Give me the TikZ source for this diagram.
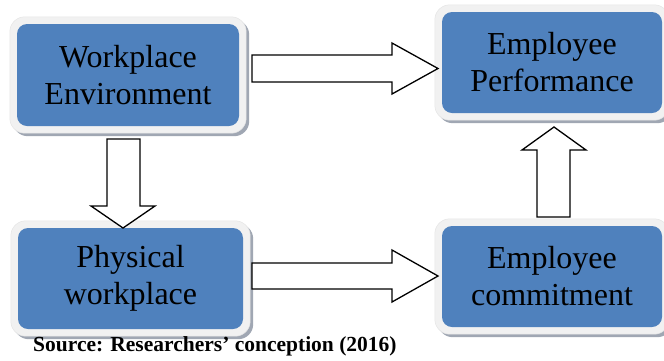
\documentclass[tikz,border=0pt]{standalone}
\usepackage{fontspec}
\setmainfont{Liberation Serif}
\usetikzlibrary{calc,backgrounds}
\definecolor{boxblue}{HTML}{4F81BD}
\definecolor{framegray}{HTML}{F1F1F1}
\definecolor{shadowgray}{HTML}{A0A7B3}
\begin{document}
\begin{tikzpicture}[x=1pt,y=-1pt,
  box/.style={fill=boxblue, rounded corners=10pt, inner sep=0pt, align=center,
    font=\fontsize{32}{37}\selectfont, text=black},
  boxframe/.style={fill=framegray, draw=black!10, line width=0.5pt, rounded corners=15pt},
  boxshade/.style={fill=shadowgray, rounded corners=15pt},
  blockarrow/.style={draw=black, fill=white, line width=1.3pt, line join=miter}]
\useasboundingbox (0,0) rectangle (664,360);
\node[box, minimum width=222pt, minimum height=102pt] (env) at (128,75) {Workplace\\Environment};
\node[box, minimum width=220pt, minimum height=101pt] (perf) at (552,62.5) {Employee\\Performance};
\node[box, minimum width=225pt, minimum height=101pt] (phys) at (130.5,278.5) {Physical\\workplace};
\node[box, minimum width=220pt, minimum height=101pt] (comm) at (552,276.5) {Employee\\commitment};
\begin{scope}[on background layer]
 \foreach \n in {env,perf,phys,comm} {
  \fill[boxshade] ([shift={(-4,-4)}]\n.north west) rectangle ([shift={(10,10)}]\n.south east);
  \draw[boxframe] ([shift={(-7,-7)}]\n.north west) rectangle ([shift={(7,7)}]\n.south east);
 }
\end{scope}
% Workplace Environment -> Employee Performance
\coordinate (a1s) at (252,68.5);
\coordinate (a1e) at (438,68.5);
\draw[blockarrow] ([shift={(0,-13.5)}]a1s) -- (392,55) -- (392,43) -- (a1e) -- (392,94) -- (392,82) -- ([shift={(0,13.5)}]a1s) -- cycle;
% Workplace Environment -> Physical workplace
\coordinate (a2s) at (123.5,139);
\coordinate (a2e) at (123,228);
\draw[blockarrow] ([shift={(-16.5,0)}]a2s) -- (107,206) -- (91,206) -- (a2e) -- (155,206) -- (140,206) -- ([shift={(16.5,0)}]a2s) -- cycle;
% Physical workplace -> Employee commitment
\coordinate (a3s) at (252,276);
\coordinate (a3e) at (438,276);
\draw[blockarrow] ([shift={(0,-13)}]a3s) -- (392,263) -- (392,250) -- (a3e) -- (392,302) -- (392,289) -- ([shift={(0,13)}]a3s) -- cycle;
% Employee commitment -> Employee Performance
\coordinate (a4s) at (553.5,217);
\coordinate (a4e) at (554,127);
\draw[blockarrow] ([shift={(-16.5,0)}]a4s) -- (537,150) -- (522,150) -- (a4e) -- (586,150) -- (570,150) -- ([shift={(16.5,0)}]a4s) -- cycle;
\node[anchor=base west, inner sep=0pt, font=\bfseries\fontsize{21.5}{24}\selectfont] (src) at (33,351) {Source: Researchers’ conception (2016)};
\end{tikzpicture}
\end{document}
